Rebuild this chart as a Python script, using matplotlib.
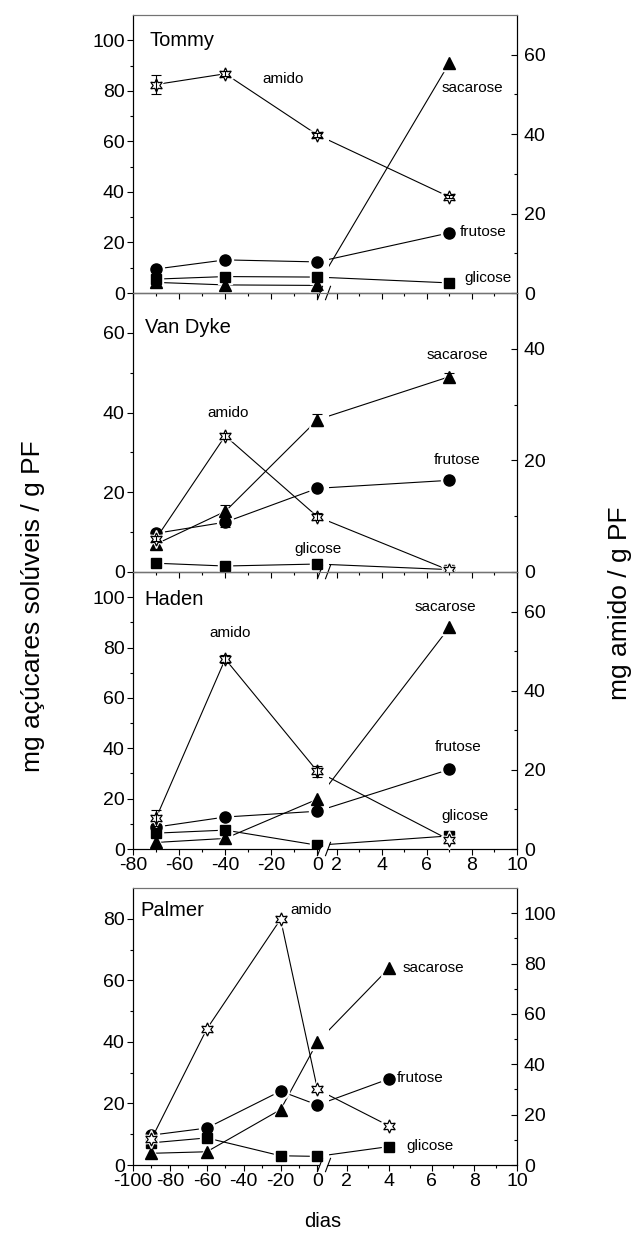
import numpy as np
import matplotlib
matplotlib.use("Agg")
import matplotlib.pyplot as plt
from matplotlib.patches import Rectangle, Polygon
from matplotlib.ticker import FixedLocator
from matplotlib.transforms import blended_transform_factory

plt.rcParams['font.family'] = ['Liberation Sans', 'DejaVu Sans']

# ---- data ----
# days relative to harvest (0) and days of storage after it
dias_top = [-70, -40, 0, 7]
dias_palmer = [-90, -60, -20, 0, 4]

tommy_frutose = [9.5, 13.1, 12.3, 23.8]
tommy_glicose = [5.5, 6.5, 6.3, 4.0]
tommy_sacarose = [4.2, 3.2, 3.0, 91.0]
tommy_amido = [52.5, 55.2, 39.8, 24.2]
tommy_amido_err = [2.5, 0.6, 0.5, 0.4]

vandyke_frutose = [9.7, 12.5, 21.0, 23.0]
vandyke_frutose_err = [0.0, 1.2, 0.0, 0.0]
vandyke_glicose = [2.2, 1.5, 2.0, 0.6]
vandyke_sacarose = [7.0, 15.2, 38.2, 49.0]
vandyke_sacarose_err = [0.0, 1.5, 1.5, 1.0]
vandyke_amido = [6.0, 24.4, 9.9, 0.3]
vandyke_amido_err = [0.5, 0.5, 0.6, 0.0]

haden_frutose = [8.7, 12.7, 15.0, 31.6]
haden_glicose = [6.3, 7.5, 1.5, 5.2]
haden_sacarose = [2.6, 4.2, 19.8, 88.0]
haden_amido = [7.8, 48.0, 19.6, 2.3]
haden_amido_err = [2.0, 1.0, 1.5, 0.0]

palmer_frutose = [9.7, 12.0, 24.0, 19.5, 28.0]
palmer_glicose = [7.2, 8.8, 3.0, 2.8, 6.0]
palmer_sacarose = [3.8, 4.3, 18.0, 40.0, 64.0]
palmer_amido = [10.3, 54.0, 97.6, 30.0, 15.5]

# ---- broken x axis: piecewise linear scale (units ~ pixels) ----
def broken_scale(xmin, xb, left_px=184.0, gap_px=11.0, right_px=188.0, xmax=10.0):
    def fwd(x):
        x = np.asarray(x, dtype=float)
        return np.where(x <= 0, x * left_px / -xmin,
                        np.where(x < xb, x / xb * gap_px,
                                 gap_px + (x - xb) * right_px / (xmax - xb)))

    def inv(u):
        u = np.asarray(u, dtype=float)
        return np.where(u <= 0, u * -xmin / left_px,
                        np.where(u < gap_px, u / gap_px * xb,
                                 xb + (u - gap_px) * (xmax - xb) / right_px))
    return fwd, inv


def serie(ax, x, y, marker, ms, segs, err=None, open_marker=False):
    trans = blended_transform_factory(ax.transData, ax.transAxes)
    for a, b in segs:
        ln, = ax.plot(x, y, color='k', lw=0.8, zorder=2)
        ln.set_clip_path(Rectangle((a, 0), b - a, 1, transform=trans))
    ax.plot(x, y, ls='none', marker=marker, ms=ms + 3.5, mfc='w', mec='w', zorder=3)
    if open_marker:
        ax.plot(x, y, ls='none', marker=marker, ms=ms, mfc='w', mec='k', mew=0.9, zorder=4)
    else:
        ax.plot(x, y, ls='none', marker=marker, ms=ms, mfc='k', mec='k', zorder=4)
    if err is not None:
        idx = [i for i, e in enumerate(err) if e > 0]
        ax.errorbar([x[i] for i in idx], [y[i] for i in idx], yerr=[err[i] for i in idx],
                    fmt='none', ecolor='k', elinewidth=0.8, capsize=3.5, capthick=0.8, zorder=5)


def break_marks(ax, inv):
    trans = blended_transform_factory(ax.transData, ax.transAxes)
    h = 0.024
    xs = inv(np.array([0.0, 5.0, 8.0, 13.0]))
    ax.add_patch(Polygon([(xs[0] + 0.05, -0.008), (xs[2], -0.008), (xs[3], 0.008), (xs[1] + 0.05, 0.008)],
                         closed=True, fc='w', ec='none', transform=trans, clip_on=False, zorder=6))
    for a, b in [(xs[0], xs[1]), (xs[2], xs[3])]:
        ax.plot([a, b], [-h, h], color='k', lw=0.8, transform=trans, clip_on=False, zorder=7)


fig = plt.figure(figsize=(6.34, 12.33), dpi=100)

left, width = 133 / 634, 384 / 634
panels = [
    # name, xmin, xb, bottom px, height px, left ylim, right ylim
    ('Tommy', -80, 1.644, 293, 278, 110, 70),
    ('Van Dyke', -80, 1.644, 572, 279, 70, 50),
    ('Haden', -80, 1.644, 849, 277, 110, 70),
    ('Palmer', -100, 1.153, 1165, 277, 90, 110),
]

tick_fs = 14
label_fs = 11

axes = []
for i, (name, xmin, xb, bot, hgt, ylim_l, ylim_r) in enumerate(panels):
    ax = fig.add_axes([left, 1 - bot / 1233, width, hgt / 1233])
    ax.set_facecolor('none')
    fwd, inv = broken_scale(xmin, xb)
    ax.set_xscale('function', functions=(fwd, inv))
    ax.set_xlim(xmin, 10)
    ax.set_ylim(0, ylim_l)
    ax2 = ax.twinx()
    ax2.set_ylim(0, ylim_r)

    maj = list(range(xmin, 1, 20)) + [2, 4, 6, 8, 10]
    mnr = list(range(xmin + 10, 0, 20)) + [3, 5, 7, 9]
    ax.xaxis.set_major_locator(FixedLocator(maj))
    ax.xaxis.set_minor_locator(FixedLocator(mnr))
    ax.yaxis.set_major_locator(FixedLocator(np.arange(0, ylim_l - 5, 20)))
    ax.yaxis.set_minor_locator(FixedLocator(np.arange(10, ylim_l, 10)))
    ax2.yaxis.set_major_locator(FixedLocator(np.arange(0, ylim_r - 5, 20)))
    ax2.yaxis.set_minor_locator(FixedLocator(np.arange(10, ylim_r, 10)))

    ax.tick_params(which='both', direction='out', top=False, right=False,
                   labelsize=tick_fs, pad=2, width=0.8)
    ax.tick_params(which='major', length=4)
    ax.tick_params(which='minor', length=2.5)
    ax2.tick_params(which='both', direction='in', labelsize=tick_fs, pad=5, width=0.8)
    ax2.tick_params(which='major', length=4)
    ax2.tick_params(which='minor', length=2.5)
    ax.set_xticklabels([str(v) for v in maj])
    if i < 2:
        ax.tick_params(labelbottom=False)
    for a in (ax, ax2):
        for s in a.spines.values():
            s.set_linewidth(0.8)
        a.spines['top'].set_color('0.45')

    ax.text(0.03 if name != 'Tommy' else 0.044, 1, name, transform=ax.transAxes, fontsize=14.5,
            ha='left', va='center')
    axes.append((ax, ax2, xmin, xb, inv))

segs_top = [(-80, 0), (1.644, 10)]
segs_pal = [(-100, 0), (1.153, 10)]

# Tommy
ax, ax2 = axes[0][0], axes[0][1]
axes[0][0].texts[0].set_y(0.91)
serie(ax, dias_top, tommy_frutose, 'o', 8, segs_top)
serie(ax, dias_top, tommy_glicose, 's', 6.5, segs_top)
serie(ax, dias_top, tommy_sacarose, '^', 8, segs_top)
serie(ax2, dias_top, tommy_amido, (6, 1, 0), 9.5, segs_top, err=tommy_amido_err, open_marker=True)
ax.text(0.39, 0.77, 'amido', transform=ax.transAxes, fontsize=label_fs, ha='center', va='center')
ax.text(0.885, 0.737, 'sacarose', transform=ax.transAxes, fontsize=label_fs, ha='center', va='center')
ax.text(0.852, 0.219, 'frutose', transform=ax.transAxes, fontsize=label_fs, ha='left', va='center')
ax.text(0.862, 0.054, 'glicose', transform=ax.transAxes, fontsize=label_fs, ha='left', va='center')

# Van Dyke
ax, ax2 = axes[1][0], axes[1][1]
ax.texts[0].set_y(0.875)
serie(ax, dias_top, vandyke_frutose, 'o', 8, segs_top, err=vandyke_frutose_err)
serie(ax, dias_top, vandyke_glicose, 's', 6.5, segs_top)
serie(ax, dias_top, vandyke_sacarose, '^', 8, segs_top, err=vandyke_sacarose_err)
serie(ax2, dias_top, vandyke_amido, (6, 1, 0), 9.5, segs_top, err=vandyke_amido_err, open_marker=True)
ax.text(0.248, 0.57, 'amido', transform=ax.transAxes, fontsize=label_fs, ha='center', va='center')
ax.text(0.482, 0.082, 'glicose', transform=ax.transAxes, fontsize=label_fs, ha='center', va='center')
ax.text(0.846, 0.778, 'sacarose', transform=ax.transAxes, fontsize=label_fs, ha='center', va='center')
ax.text(0.844, 0.40, 'frutose', transform=ax.transAxes, fontsize=label_fs, ha='center', va='center')

# Haden
ax, ax2 = axes[2][0], axes[2][1]
ax.texts[0].set_y(0.899)
serie(ax, dias_top, haden_frutose, 'o', 8, segs_top)
serie(ax, dias_top, haden_glicose, 's', 6.5, segs_top)
serie(ax, dias_top, haden_sacarose, '^', 8, segs_top)
serie(ax2, dias_top, haden_amido, (6, 1, 0), 9.5, segs_top, err=haden_amido_err, open_marker=True)
ax.text(0.253, 0.78, 'amido', transform=ax.transAxes, fontsize=label_fs, ha='center', va='center')
ax.text(0.8125, 0.874, 'sacarose', transform=ax.transAxes, fontsize=label_fs, ha='center', va='center')
ax.text(0.846, 0.368, 'frutose', transform=ax.transAxes, fontsize=label_fs, ha='center', va='center')
ax.text(0.865, 0.119, 'glicose', transform=ax.transAxes, fontsize=label_fs, ha='center', va='center')

# Palmer
ax, ax2 = axes[3][0], axes[3][1]
ax.texts[0].set_x(0.018)
ax.texts[0].set_y(0.92)
serie(ax, dias_palmer, palmer_frutose, 'o', 8, segs_pal)
serie(ax, dias_palmer, palmer_glicose, 's', 6.5, segs_pal)
serie(ax, dias_palmer, palmer_sacarose, '^', 8, segs_pal)
serie(ax2, dias_palmer, palmer_amido, (6, 1, 0), 9.5, segs_pal, open_marker=True)
ax.text(0.411, 0.92, 'amido', transform=ax.transAxes, fontsize=label_fs, ha='left', va='center')
ax.text(0.703, 0.711, 'sacarose', transform=ax.transAxes, fontsize=label_fs, ha='left', va='center')
ax.text(0.6875, 0.314, 'frutose', transform=ax.transAxes, fontsize=label_fs, ha='left', va='center')
ax.text(0.711, 0.069, 'glicose', transform=ax.transAxes, fontsize=label_fs, ha='left', va='center')

for ax, ax2, xmin, xb, inv in axes:
    break_marks(ax2, inv)

fig.text(0.052, 0.508, 'mg açúcares solúveis / g PF', rotation=90, fontsize=19,
         ha='center', va='center')
fig.text(0.978, 0.511, 'mg amido / g PF', rotation=90, fontsize=19, ha='center', va='center')
fig.text(0.5095, 0.009, 'dias', fontsize=14.5, ha='center', va='center')

fig.savefig('out.png', dpi=100)
